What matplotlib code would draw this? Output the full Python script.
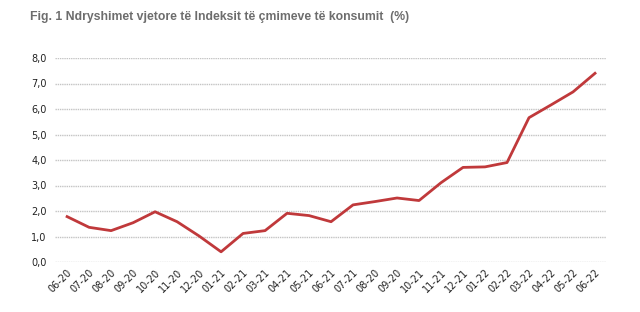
import matplotlib.pyplot as plt

months = ['06-20', '07-20', '08-20', '09-20', '10-20', '11-20', '12-20', '01-21',
          '02-21', '03-21', '04-21', '05-21', '06-21', '07-21', '08-20', '09-20',
          '10-21', '11-21', '12-21', '01-22', '02-22', '03-22', '04-22', '05-22', '06-22']
inflation = [1.78, 1.36, 1.23, 1.54, 1.97, 1.58, 1.02, 0.40,
             1.12, 1.23, 1.91, 1.82, 1.58, 2.24, 2.37, 2.51,
             2.41, 3.11, 3.71, 3.73, 3.90, 5.66, 6.16, 6.67, 7.40]

fig = plt.figure(figsize=(6.4, 3.12), dpi=100)
ax = fig.add_axes([55/640, 1-262/312, (606-55)/640, (262-58)/312])

x = range(len(months))
ax.plot(x, inflation, color='#c0393b', linewidth=2)

ax.set_xlim(-0.55, 24.5)
ax.set_ylim(0, 8)
ax.set_yticks(range(0, 9))
ax.set_yticklabels([f'{v},0' for v in range(0, 9)])
ax.set_xticks(list(x))
ax.set_xticklabels(months, rotation=45, ha='right', rotation_mode='anchor')
ax.tick_params(axis='both', length=0, labelsize=7, colors='#222222')
ax.tick_params(axis='y', pad=6)
ax.tick_params(axis='x', pad=4)

ax.grid(axis='y', color='#c4c4c4', linestyle=(0, (1, 0.6)), linewidth=1)
ax.set_axisbelow(True)
for s in ax.spines.values():
    s.set_visible(False)

fig.text(30/640, 1-20/312, 'Fig. 1 Ndryshimet vjetore të Indeksit të çmimeve të konsumit  (%)',
         fontsize=8.8, fontweight='bold', color='#6d6d6d',
         family=['Liberation Sans Narrow', 'Liberation Sans', 'DejaVu Sans'])

fig.savefig('out.png', dpi=100)
